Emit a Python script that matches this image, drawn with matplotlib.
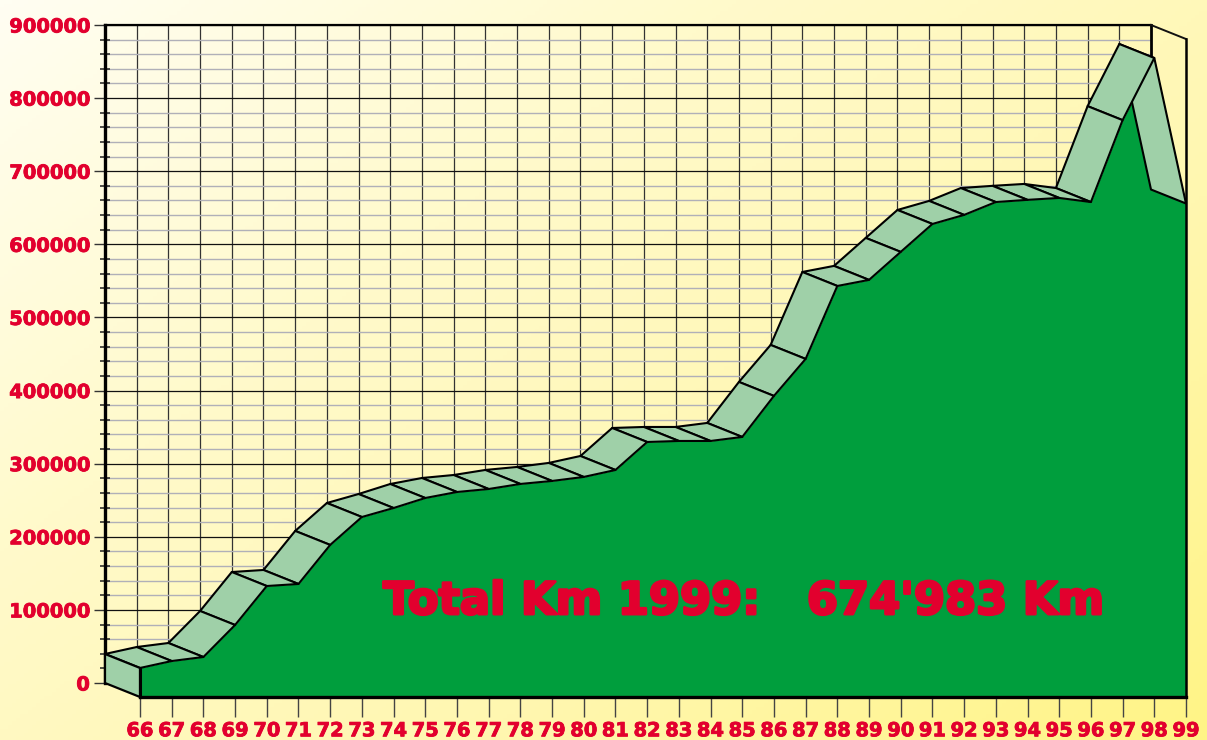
import matplotlib
matplotlib.use('Agg')
import matplotlib.pyplot as plt
import matplotlib.patheffects as pe
import numpy as np
from matplotlib.colors import LinearSegmentedColormap

years = ['66','67','68','69','70','71','72','73','74','75','76','77','78','79','80','81','82',
         '83','84','85','86','87','88','89','90','91','92','93','94','95','96','97','98','99']
km = [39700,49200,54700,98500,151800,154600,208000,246200,258500,272200,280400,284500,
      291400,295500,301000,310500,348800,350200,350200,355700,411800,462400,562200,570500,
      608800,647000,659400,677000,680000,682600,677000,789000,874000,674983]
y_major = [0,100000,200000,300000,400000,500000,600000,700000,800000,900000]
y_minor = [v for v in range(0,900001,20000) if v % 100000 != 0]

W, H = 1207, 740
RED = '#E2002E'
GREEN = '#009E3D'
LIGHT = '#9FD0A8'

plt.rcParams['font.family'] = ['DejaVu Sans']

fig = plt.figure(figsize=(W/100, H/100), dpi=100)

# background gradient
bg = fig.add_axes([0,0,1,1], zorder=0)
gx, gy = np.meshgrid(np.linspace(0,1,300), np.linspace(0,1,200))
cmap = LinearSegmentedColormap.from_list('bg', ['#FFFEF2','#FFFACB','#FFF7B0','#FFF486'])
bg.imshow((gx*1.1+gy*0.9)/2, cmap=cmap, aspect='auto', vmin=0, vmax=1)
bg.axis('off')

def px_axes(x0, x1, y0, y1, z):
    a = fig.add_axes([x0/W, 1-y1/H, (x1-x0)/W, (y1-y0)/H], zorder=z)
    a.patch.set_alpha(0)
    a.set_xlim(0, 33)
    a.set_ylim(0, 900000)
    return a

heavy = [pe.withStroke(linewidth=0.6, foreground=RED)]

# back wall
back = px_axes(105, 1151, 25, 683, 1)
back.spines['bottom'].set_visible(False)
back.spines['left'].set_linewidth(2.4)
back.spines['right'].set_linewidth(2.0)
back.spines['top'].set_linewidth(1.6)
back.set_yticks(y_major)
back.set_yticklabels([str(v) for v in y_major], color=RED, fontsize=14, fontweight='bold', path_effects=heavy)
back.set_yticks(y_minor, minor=True)
back.tick_params(axis='y', which='major', length=8, width=1.0, color='#333333', pad=3)
back.tick_params(axis='y', which='minor', direction='inout', length=7.5, width=1.1, color='#222222')
back.set_xticks(range(1, 33))
back.set_xticklabels([])
back.tick_params(axis='x', length=0)
back.grid(axis='x', color='#333333', lw=0.9)
back.grid(axis='y', which='minor', color='#b0b0b8', lw=1.0)
back.grid(axis='y', which='major', color='#111111', lw=0.9)
back.set_axisbelow(True)

# front plane
front = px_axes(140, 1186, 39, 697, 2)
for s in ['left', 'top']:
    front.spines[s].set_visible(False)
front.spines['bottom'].set_linewidth(2.4)
front.spines['right'].set_linewidth(1.8)
front.set_yticks([])
front.set_xticks(range(34))
front.set_xticklabels(years, color=RED, fontsize=14, fontweight='bold', path_effects=heavy)
front.tick_params(axis='x', length=14.5, width=1.0, color='#444444', pad=3)

x = np.arange(34)
front.fill_between(x, 0, km, color=GREEN, lw=0, zorder=2)

DX = 35/31.7
DY = 14/73.1*100000

# bands on top of the face, last year first so the peak band stays in front
for i in range(32, -1, -1):
    bx = [i-DX, i+1-DX, i+1, i]
    by = [km[i]+DY, km[i+1]+DY, km[i+1], km[i]]
    front.fill(bx, by, facecolor=LIGHT, edgecolor='black', lw=1.5, clip_on=False, zorder=3, joinstyle='round')

# left side face
front.fill([-DX, 0, 0, -DX], [DY, 0, km[0], km[0]+DY], facecolor=LIGHT, edgecolor='black', lw=1.6,
           clip_on=False, zorder=3)
# right wall
front.plot([33-DX, 33], [900000+DY, 900000], color='#111111', lw=1.4, clip_on=False, zorder=1)
front.plot([0, 0], [0, km[0]], color='black', lw=2.2, clip_on=False, zorder=4)

front.text(0.2325, 0.145, "Total Km 1999:   674'983 Km", transform=front.transAxes, color=RED,
           fontsize=32.2, fontweight='bold', va='center', ha='left', zorder=5,
           path_effects=[pe.withStroke(linewidth=2.0, foreground=RED)])

fig.savefig('out.png', dpi=100)
